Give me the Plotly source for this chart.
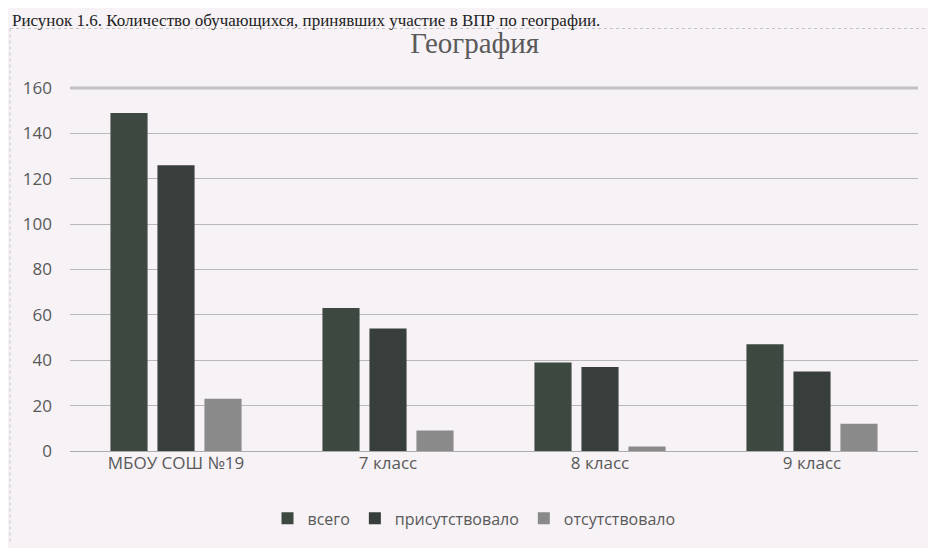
import plotly.graph_objects as go

categories = ["МБОУ СОШ №19", "7 класс", "8 класс", "9 класс"]
vsego = [149, 63, 39, 47]
prisutstvovalo = [126, 54, 37, 35]
otsutstvovalo = [23, 9, 2, 12]
series_names = ["всего", "присутствовало", "отсутствовало"]
y_ticks = [0, 20, 40, 60, 80, 100, 120, 140, 160]

colors = ["#3d4841", "#373e3c", "#8a8a8a"]
bg = "#f6f2f6"

# plot area in page pixels: x 70..918, y 88..454 (figure drawn at page offset 8,8)
PW, PH = 848, 366


def px(x):
    return (x - 70) / PW


def py(y):
    return (454 - y) / PH


fig = go.Figure()
for name, vals, col in zip(series_names, [vsego, prisutstvovalo, otsutstvovalo], colors):
    fig.add_trace(go.Bar(x=categories, y=vals, name=name, marker=dict(color=col, line=dict(width=0))))

fig.update_layout(
    width=928, height=540,
    paper_bgcolor=bg, plot_bgcolor=bg,
    margin=dict(l=62, r=18, t=80, b=94),
    barmode="group", bargap=0.335, bargroupgap=0.21,
    font=dict(family="Open Sans, DejaVu Sans, sans-serif", size=16, color="#595959"),
    title=dict(text="География", xref="container", x=0.503, xanchor="center",
               yref="container", y=0.935, yanchor="middle",
               font=dict(family="Liberation Serif, DejaVu Serif, serif", size=29, color="#5a5a5a")),
    showlegend=True,
    legend=dict(orientation="h", x=px(474), xanchor="center", y=py(522), yanchor="middle",
                font=dict(size=16, color="#595959"), bgcolor="rgba(0,0,0,0)",
                itemwidth=30, traceorder="normal"),
    xaxis=dict(showgrid=False, showline=False, ticks="", tickfont=dict(size=17, color="#595959")),
    yaxis=dict(range=[0, 160], tickvals=y_ticks, showgrid=True, gridcolor="#b8b8b8", gridwidth=1,
               zeroline=True, zerolinecolor="#acacac", zerolinewidth=1, showline=False,
               ticks="", tickfont=dict(size=17, color="#595959"), ticklabelstandoff=17),
    shapes=[
        dict(type="line", xref="paper", yref="paper", x0=0, x1=1, y0=1, y1=1,
             line=dict(color="#c2c2c2", width=3), layer="below"),
        dict(type="line", xref="paper", yref="paper", x0=px(10), x1=px(936), y0=py(28), y1=py(28),
             line=dict(color="#c4c4c4", width=1, dash="dot")),
        dict(type="line", xref="paper", yref="paper", x0=px(10), x1=px(10), y0=py(28), y1=py(548),
             line=dict(color="#c4c4c4", width=1, dash="dot")),
    ],
    annotations=[
        dict(text="Рисунок 1.6. Количество обучающихся, принявших участие в ВПР по географии.",
             xref="paper", yref="paper", x=px(10), xanchor="left", y=py(8), yanchor="top",
             showarrow=False, font=dict(family="Liberation Serif, serif", size=17, color="#222222")),
    ],
)

fig.write_html("out.html")
